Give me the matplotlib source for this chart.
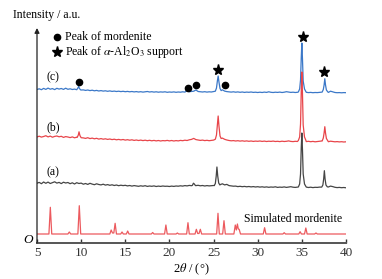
import numpy as np
import matplotlib
matplotlib.use("Agg")
import matplotlib.pyplot as plt

plt.rcParams['font.family'] = ['Liberation Serif', 'DejaVu Serif']
plt.rcParams['mathtext.fontset'] = 'stix'

# background trace, one value every 0.25 deg from 5 to 40 (first value, then rows of 10)
tth = np.round(np.arange(5, 40.001, 0.25), 2)

base_a = [4.8,
          5.6, 4.3, 6.0, 4.7, 5.9, 4.5, 5.4, 6.2, 4.9, 5.6,
          4.4, 5.8, 5.0, 5.5, 4.3, 5.2, 4.0, 5.3, 4.5, 4.9,
          3.8, 4.5, 3.6, 4.7, 3.9, 3.3, 4.2, 3.5, 3.1, 3.8,
          2.9, 3.4, 2.7, 3.2, 2.5, 3.0, 2.3, 2.8, 2.4, 2.7,
          2.1, 2.5, 1.9, 2.4, 2.0, 1.7, 2.2, 1.8, 2.3, 1.6,
          2.0, 1.7, 2.1, 1.5, 1.9, 1.6, 2.0, 1.7, 1.8, 1.5,
          1.9, 1.6, 2.0, 1.8, 2.2, 1.9, 2.4, 2.1, 2.6, 2.3,
          2.8, 2.4, 2.7, 2.2, 2.5, 2.0, 2.4, 2.1, 2.3, 2.5,
          2.6, 2.9, 3.4, 4.2, 3.1, 3.6, 2.4, 2.1, 1.8, 1.9,
          1.4, 1.7, 1.3, 1.6, 1.2, 1.5, 1.1, 1.4, 1.0, 1.3,
          0.9, 1.2, 0.8, 1.1, 0.7, 1.0, 0.8, 1.2, 0.6, 0.9,
          0.7, 1.1, 0.6, 0.9, 1.3, 0.8, 0.6, 0.9, 0.7, 0.8,
          0.7, 0.9, 0.5, 0.8, 0.4, 0.7, 0.6, 0.9, 1.2, 0.8,
          0.6, 1.0, 1.9, 1.4, 0.7, 0.4, 0.6, 0.3, 0.5, 0.2]

base_b = [5.0,
          5.8, 4.9, 5.5, 6.3, 5.1, 5.9, 4.8, 5.6, 6.0, 5.2,
          5.7, 4.6, 5.4, 5.0, 4.4, 5.1, 4.2, 4.8, 4.5, 4.3,
          4.1, 3.6, 4.3, 3.4, 3.9, 3.2, 3.7, 2.9, 3.4, 2.8,
          3.2, 2.6, 3.0, 2.4, 2.8, 2.2, 2.6, 2.1, 2.5, 1.9,
          2.3, 1.8, 2.2, 1.6, 2.0, 1.5, 1.9, 1.4, 1.8, 1.3,
          1.7, 1.2, 1.6, 1.1, 1.5, 1.0, 1.4, 1.2, 1.6, 1.1,
          1.5, 1.0, 1.4, 1.1, 1.6, 1.3, 1.8, 1.5, 2.2, 2.6,
          3.6, 2.4, 2.0, 1.6, 1.9, 1.4, 1.7, 1.3, 1.6, 1.9,
          2.2, 2.5, 2.8, 3.9, 2.7, 2.0, 1.5, 1.2, 1.4, 1.0,
          1.3, 0.9, 1.2, 0.8, 1.1, 0.7, 1.0, 0.6, 0.9, 0.7,
          1.0, 0.6, 0.9, 0.5, 0.8, 0.6, 0.9, 0.5, 0.7, 0.4,
          0.8, 0.5, 0.7, 1.1, 0.6, 0.4, 0.7, 0.5, 0.8, 1.0,
          0.6, 0.4, 0.7, 0.3, 0.6, 0.2, 0.5, 0.8, 1.0, 0.9,
          0.5, 0.3, 0.8, 0.5, 0.2, 0.4, 0.1, 0.3, 0.0, 0.2]

base_c = [3.5,
          4.2, 3.3, 4.6, 3.6, 4.9, 3.8, 4.4, 3.4, 4.7, 3.9,
          4.5, 3.6, 4.8, 3.7, 4.2, 3.5, 3.9, 3.2, 3.6, 3.0,
          3.1, 2.6, 3.0, 2.4, 2.8, 2.2, 2.6, 2.0, 2.4, 1.9,
          2.2, 1.7, 2.1, 1.6, 1.9, 1.5, 1.8, 1.4, 1.7, 1.3,
          1.6, 1.2, 1.5, 1.1, 1.4, 1.0, 1.3, 0.9, 1.2, 1.5,
          1.0, 1.3, 0.9, 1.2, 0.8, 1.1, 0.9, 1.2, 0.7, 1.0,
          0.8, 1.1, 0.7, 1.0, 0.8, 1.2, 0.9, 2.4, 1.3, 1.6,
          1.8, 3.0, 1.5, 1.2, 1.0, 1.3, 0.9, 1.2, 1.0, 1.4,
          1.6, 1.8, 2.0, 3.2, 1.9, 1.4, 1.1, 0.9, 1.2, 0.8,
          1.1, 0.7, 1.0, 0.6, 0.9, 0.7, 1.0, 0.6, 0.8, 0.5,
          0.8, 0.5, 0.9, 0.6, 1.2, 0.7, 0.5, 0.8, 0.6, 0.9,
          0.5, 0.8, 1.3, 0.9, 0.6, 0.8, 0.5, 0.7, 0.9, 0.8,
          0.5, 0.7, 0.4, 0.6, 0.3, 0.5, 0.4, 0.6, 0.8, 1.0,
          0.4, 0.6, 1.8, 1.2, 0.5, 0.3, 0.4, 0.2, 0.4, 0.3]

# reflections (2theta, intensity)
pk_a_x = [[22.6, 22.72, 22.82, 22.95],
          [25.08, 25.2, 25.3, 25.38, 25.47, 25.58, 25.72],
          [34.6, 34.75, 34.85, 34.93, 35.0, 35.07, 35.15, 35.3, 35.45],
          [37.25, 37.38, 37.47, 37.55, 37.63, 37.73, 37.88]]
pk_a_y = [[2.6, 4.8, 4.0, 2.4],
          [2.4, 4.5, 12, 21, 12, 5, 3.0],
          [1.0, 4, 14, 40, 55, 38, 14, 4, 1.5],
          [0.9, 3, 9, 17.3, 9, 3, 1.2]]

pk_b_x = [[9.55, 9.68, 9.76, 9.86, 9.98],
          [25.2, 25.33, 25.43, 25.52, 25.61, 25.73, 25.86],
          [34.6, 34.75, 34.85, 34.93, 35.0, 35.07, 35.15, 35.3, 35.45],
          [37.3, 37.43, 37.52, 37.6, 37.68, 37.78, 37.93]]
pk_b_y = [[4.6, 7.0, 10.2, 6.5, 4.6],
          [2.8, 7, 17, 26, 16, 6, 3.5],
          [1.5, 5, 18, 50, 70, 48, 17, 5, 1.8],
          [1.0, 4, 9, 15.3, 9, 3.5, 1.2]]

pk_c_x = [[9.5, 9.63, 9.72, 9.8, 9.94],
          [25.2, 25.33, 25.43, 25.52, 25.61, 25.73, 25.86],
          [34.6, 34.75, 34.85, 34.93, 35.0, 35.07, 35.15, 35.3, 35.45],
          [37.3, 37.43, 37.52, 37.6, 37.68, 37.78, 37.93]]
pk_c_y = [[3.3, 5.0, 6.6, 4.6, 3.1],
          [1.8, 5, 12, 17, 11, 4.5, 2.4],
          [1.0, 4, 13, 35, 50, 34, 12, 4, 1.5],
          [0.9, 3.5, 8, 14.3, 8, 3, 1.2]]

sim_tth = [5.0, 6.35, 6.51, 6.67, 8.5, 8.66, 8.82, 9.63, 9.79, 9.95,
           13.25, 13.4, 13.55, 13.7, 13.85, 14.0, 14.48, 14.63, 14.78,
           15.12, 15.27, 15.42, 17.95, 18.1, 18.25, 19.45, 19.6, 19.75,
           20.75, 20.9, 21.05, 21.95, 22.1, 22.25, 22.9, 23.05, 23.2,
           23.35, 23.5, 23.65, 25.35, 25.5, 25.65, 26.03, 26.18, 26.33,
           27.3, 27.46, 27.58, 27.7, 27.8, 27.9, 28.05, 30.63, 30.78,
           30.93, 32.85, 33.0, 33.15, 34.65, 34.8, 34.95, 35.3, 35.45,
           35.6, 36.45, 36.6, 36.75, 40.0]
sim_int = [0, 0, 26.7, 0, 0, 2, 0, 0, 28.3, 0,
           0, 4, 1, 1, 10.7, 0, 0, 2, 0,
           0, 3, 0, 0, 1.5, 0, 0, 9, 0,
           0, 1, 0, 0, 11.3, 0, 0, 4.7, 0.5,
           0.5, 4.7, 0, 0, 20.7, 0, 0, 13.3, 0,
           0, 9, 4, 10, 5, 4.7, 0, 0, 6.3,
           0, 0, 1.3, 0, 0, 2.3, 0, 0, 6,
           0, 0, 1, 0, 0]

dot_x = [9.75, 22.1, 23.0, 26.3]
dot_y = [161, 155, 158, 158]
star_x = [25.5, 35.1, 37.5]
star_y = [173, 206, 171]


def build(base, pk_x, pk_y):
    x = np.array(tth, float)
    y = np.array(base, float)
    assert len(x) == len(y)
    keep = np.ones(len(x), bool)
    for px in pk_x:
        keep &= ~((x >= min(px)) & (x <= max(px)))
    x = np.concatenate([x[keep]] + [np.array(p, float) for p in pk_x])
    y = np.concatenate([y[keep]] + [np.array(p, float) for p in pk_y])
    o = np.argsort(x)
    return x[o], y[o]


xa, ya = build(base_a, pk_a_x, pk_a_y)
xb, yb = build(base_b, pk_b_x, pk_b_y)
xc, yc = build(base_c, pk_c_x, pk_c_y)

fig = plt.figure(figsize=(3.82, 2.79), dpi=100)
ax = fig.add_axes([37/382, 36/279, 309/382, 215/279])

ax.plot(xc, yc + 150, color='#3b78c8', lw=0.9)
ax.plot(xb, yb + 101, color='#e8454a', lw=0.9)
ax.plot(xa, ya + 55, color='#454545', lw=0.9)
ax.plot(sim_tth, np.array(sim_int) + 9, color='#ec5a5e', lw=0.9)

ax.plot(dot_x, dot_y, 'o', color='k', ms=4.5)
ax.plot(star_x, star_y, '*', color='k', ms=8)

# legend drawn by hand
ax.plot([7.26], [206], 'o', color='k', ms=4.5, clip_on=False)
ax.plot([7.26], [191], '*', color='k', ms=8, clip_on=False)
ax.text(8.17, 206, 'Peak of mordenite', fontsize=8.5, va='center')
ax.text(8.17, 191, r'Peak of $\alpha$-Al$_2$O$_3$ support', fontsize=8.5, va='center')

ax.text(6.8, 166, '(c)', fontsize=8.5, ha='center', va='center')
ax.text(6.8, 116, '(b)', fontsize=8.5, ha='center', va='center')
ax.text(6.8, 71, '(a)', fontsize=8.5, ha='center', va='center')
ax.text(28.44, 24, 'Simulated mordenite', fontsize=8.5, va='center')

ax.set_xlim(5, 40)
ax.set_ylim(0, 215)
ax.set_xticks([5, 10, 15, 20, 25, 30, 35, 40])
ax.set_yticks([])
ax.tick_params(axis='x', direction='in', length=3, width=1, colors='#333333',
               labelsize=9.5, pad=3)
for s in ['top', 'right', 'left']:
    ax.spines[s].set_visible(False)
ax.spines['bottom'].set_color('#555555')
ax.spines['bottom'].set_linewidth(1.4)
ax.set_xlabel(r'2$\theta$ / (°)', fontsize=9, labelpad=2)

ax.annotate('', xy=(0, 1), xytext=(0, 0), xycoords='axes fraction',
            arrowprops=dict(arrowstyle='-|>', color='#222222', lw=0.9,
                            mutation_scale=7, shrinkA=0, shrinkB=0))
ax.text(-0.029, 0.014, 'O', transform=ax.transAxes, fontsize=9.5,
        style='italic', ha='center', va='center')
fig.text(13/382, 1 - 15/279, 'Intensity / a.u.', fontsize=8.5, va='center')

fig.savefig('out.png', dpi=100)
